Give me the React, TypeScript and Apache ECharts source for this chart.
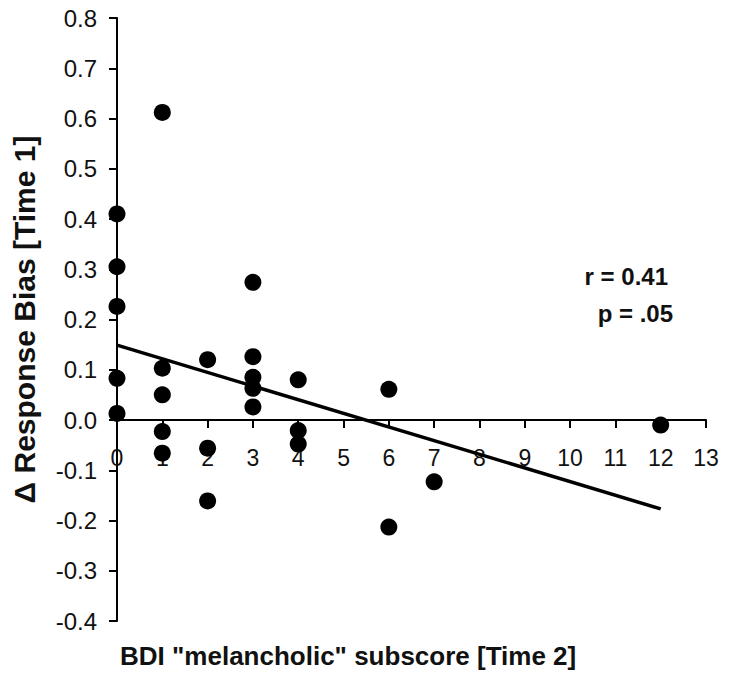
import React, { useEffect, useRef } from "react";
import * as echarts from "echarts";

// BDI "melancholic" subscore [Time 2]
const bdiScores = [
  0, 0, 0, 0, 0,
  1, 1, 1, 1, 1,
  2, 2, 2,
  3, 3, 3, 3, 3,
  4, 4, 4,
  6, 6,
  7,
  12,
];
// Δ Response Bias [Time 1]
const responseBias = [
  0.41, 0.305, 0.226, 0.083, 0.013,
  0.612, 0.103, 0.05, -0.023, -0.066,
  0.12, -0.056, -0.161,
  0.274, 0.126, 0.085, 0.063, 0.026,
  0.08, -0.021, -0.048,
  0.061, -0.213,
  -0.123,
  -0.01,
];
// regression line end points
const fitX = [0, 12];
const fitY = [0.149, -0.177];

const xTicks = { min: 0, max: 13, interval: 1 };
const yTicks = { min: -0.4, max: 0.8, interval: 0.1 };

const statLines = ["r = 0.41", "p = .05"];
const xTitle = 'BDI "melancholic" subscore [Time 2]';
const yTitle = "\u0394 Response Bias [Time 1]";

const FONT = "'Liberation Sans', Arial, Helvetica, sans-serif";

const GRID_TOP = 18;
const GRID_BOTTOM = 79;
const HEIGHT = 700;

export default function App() {
  const ref = useRef<HTMLDivElement>(null);

  useEffect(() => {
    if (!ref.current) return;
    const chart = echarts.init(ref.current, null, { renderer: "svg" });
    const points = bdiScores.map((x, i) => [x, responseBias[i]]);
    const fit = fitX.map((x, i) => [x, fitY[i]]);

    // place the x axis (line, ticks, labels) where y = 0
    const plotH = HEIGHT - GRID_TOP - GRID_BOTTOM;
    const zeroFromBottom = ((0 - yTicks.min) / (yTicks.max - yTicks.min)) * plotH;

    chart.setOption({
      animation: false,
      backgroundColor: "#ffffff",
      grid: { left: 117, right: 23, top: GRID_TOP, bottom: GRID_BOTTOM, containLabel: false },
      xAxis: {
        type: "value",
        min: xTicks.min,
        max: xTicks.max,
        interval: xTicks.interval,
        offset: -zeroFromBottom,
        splitLine: { show: false },
        axisLine: { show: true, onZero: false, lineStyle: { color: "#000", width: 2 } },
        axisTick: { show: true, length: 8, lineStyle: { color: "#000", width: 2 } },
        axisLabel: {
          show: true,
          margin: 26,
          fontSize: 23,
          color: "#111",
          fontFamily: FONT,
          showMinLabel: true,
          showMaxLabel: true,
        },
      },
      yAxis: {
        type: "value",
        min: yTicks.min,
        max: yTicks.max,
        interval: yTicks.interval,
        splitLine: { show: false },
        axisLine: { show: true, onZero: false, lineStyle: { color: "#000", width: 2 } },
        axisTick: { show: true, length: 8, lineStyle: { color: "#000", width: 2 } },
        axisLabel: {
          show: true,
          margin: 20,
          fontSize: 24,
          color: "#111",
          fontFamily: FONT,
          formatter: (v: number) => (Math.abs(v) < 1e-9 ? "0.0" : v.toFixed(1)),
        },
        name: yTitle,
        nameLocation: "middle",
        nameRotate: 90,
        nameGap: 78,
        nameTextStyle: {
          fontSize: 30,
          fontWeight: "bold",
          color: "#111",
          fontFamily: FONT,
        },
      },
      series: [
        {
          type: "scatter",
          data: points,
          symbol: "circle",
          symbolSize: 17,
          itemStyle: { color: "#000", opacity: 1 },
          z: 3,
        },
        {
          type: "line",
          data: fit,
          showSymbol: false,
          symbol: "none",
          lineStyle: { color: "#000", width: 3.5 },
          z: 4,
        },
      ],
      graphic: [
        {
          type: "text",
          right: 729 - 668,
          top: 264,
          style: {
            text: statLines[0],
            fontSize: 24,
            fontWeight: "bold",
            fill: "#111",
            fontFamily: FONT,
          },
        },
        {
          type: "text",
          right: 729 - 673,
          top: 301,
          style: {
            text: statLines[1],
            fontSize: 24,
            fontWeight: "bold",
            fill: "#111",
            fontFamily: FONT,
          },
        },
        {
          type: "text",
          left: 120,
          top: 643,
          style: {
            text: xTitle,
            fontSize: 26,
            fontWeight: "bold",
            fill: "#111",
            fontFamily: FONT,
          },
        },
      ],
    });

    return () => chart.dispose();
  }, []);

  return (
    <div
      ref={ref}
      style={{ position: "fixed", left: 0, top: 0, width: 729, height: 700, background: "#fff" }}
    />
  );
}
